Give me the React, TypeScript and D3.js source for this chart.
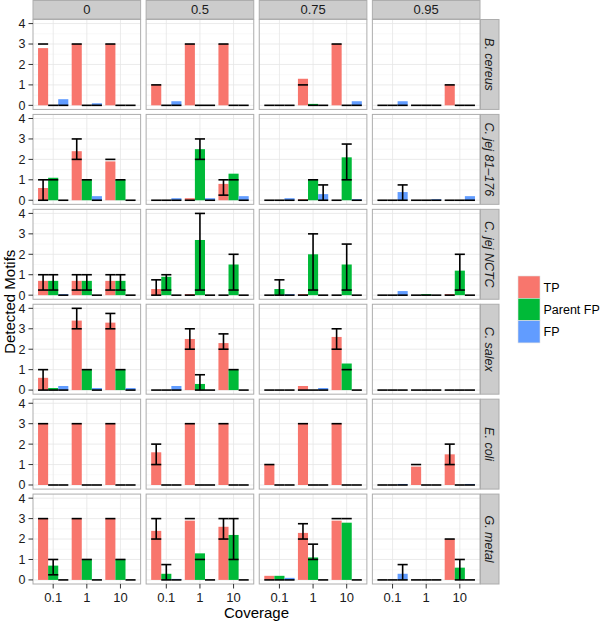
import React from "react";
import * as d3 from "d3";

const thresholds = ["0", "0.5", "0.75", "0.95"];
const species = ["B. cereus", "C. jej 81–176", "C. jej NCTC", "C. salex", "E. coli", "G. metal"];
const coverages = ["0.1", "1", "10"];
const types = ["TP", "Parent FP", "FP"];
const typeColors = ["#F8766D", "#00BA38", "#619CFF"];
const yTicks = [0, 1, 2, 3, 4];

// each entry: [value, errLow, errHigh]; per threshold: coverage 0.1 (TP, Parent FP, FP), 1 (...), 10 (...)
const bCereus = [
  [[2.8, 3, 3], [0, 0, 0], [0.3, 0, 0], [3, 3, 3], [0, 0, 0], [0.1, 0, 0], [3, 3, 3], [0, 0, 0], [0, 0, 0]],
  [[1, 1, 1], [0, 0, 0], [0.2, 0, 0], [3, 3, 3], [0, 0, 0], [0, 0, 0], [3, 3, 3], [0, 0, 0], [0, 0, 0]],
  [[0, 0, 0], [0, 0, 0], [0, 0, 0], [1.3, 1, 1], [0.07, 0, 0], [0, 0, 0], [3, 3, 3], [0, 0, 0], [0.2, 0, 0]],
  [[0, 0, 0], [0, 0, 0], [0.2, 0, 0], [0, 0, 0], [0, 0, 0], [0, 0, 0], [1, 1, 1], [0, 0, 0], [0, 0, 0]],
];
const cJej81 = [
  [[0.6, 0, 1], [1.1, 1, 1], [0, 0, 0], [2.4, 2, 3], [1, 1, 1], [0.2, 0, 0], [1.9, 2, 2], [1, 1, 1], [0, 0, 0]],
  [[0, 0, 0], [0, 0, 0], [0.1, 0, 0], [0.1, 0, 0], [2.5, 2, 3], [0.1, 0, 0], [0.8, 0.25, 1], [1.3, 1, 1], [0.2, 0, 0]],
  [[0, 0, 0], [0, 0, 0], [0.1, 0, 0], [0.05, 0, 0], [1, 1, 1], [0.3, 0, 0.75], [0, 0, 0], [2.1, 1, 2.75], [0.05, 0, 0]],
  [[0, 0, 0], [0, 0, 0], [0.4, 0, 0.75], [0, 0, 0], [0, 0, 0], [0.05, 0, 0], [0, 0, 0], [0, 0, 0], [0.2, 0, 0]],
];
const cJejNCTC = [
  [[0.7, 0.25, 1], [0.7, 0.25, 1], [0.05, 0, 0], [0.7, 0.25, 1], [0.7, 0.25, 1], [0, 0, 0], [0.7, 0.25, 1], [0.7, 0.25, 1], [0, 0, 0]],
  [[0.3, 0, 0.75], [0.9, 0.25, 1], [0, 0, 0], [0.05, 0, 0], [2.7, 0.25, 4], [0, 0, 0], [0, 0, 0], [1.5, 0.25, 2], [0, 0, 0]],
  [[0, 0, 0], [0.3, 0, 0.75], [0.05, 0, 0], [0.05, 0, 0], [2, 0.25, 3], [0, 0, 0], [0, 0, 0], [1.5, 0.25, 2.5], [0, 0, 0]],
  [[0, 0, 0], [0, 0, 0], [0.2, 0, 0], [0, 0, 0], [0.05, 0, 0], [0, 0, 0], [0.05, 0, 0], [1.2, 0.25, 2], [0, 0, 0]],
];
const cSalex = [
  [[0.6, 0, 1], [0.1, 0, 0], [0.2, 0, 0], [3.4, 3, 4], [1, 1, 1], [0.1, 0, 0], [3.3, 3, 3.75], [1, 1, 1], [0.1, 0, 0]],
  [[0, 0, 0], [0, 0, 0], [0.2, 0, 0], [2.5, 2, 3], [0.3, 0, 0.75], [0, 0, 0], [2.3, 2, 2.75], [1, 1, 1], [0, 0, 0]],
  [[0, 0, 0], [0, 0, 0], [0, 0, 0], [0.2, 0, 0], [0, 0, 0], [0.1, 0, 0], [2.6, 2, 3], [1.3, 1, 1], [0, 0, 0]],
  [[0, 0, 0], [0, 0, 0], [0, 0, 0], [0, 0, 0], [0, 0, 0], [0, 0, 0], [0, 0, 0], [0, 0, 0], [0, 0, 0]],
];
const eColi = [
  [[3, 3, 3], [0, 0, 0], [0, 0, 0], [3, 3, 3], [0, 0, 0], [0, 0, 0], [3, 3, 3], [0, 0, 0], [0, 0, 0]],
  [[1.6, 1, 2], [0, 0, 0], [0, 0, 0], [3, 3, 3], [0, 0, 0], [0, 0, 0], [3, 3, 3], [0, 0, 0], [0, 0, 0]],
  [[1, 1, 1], [0, 0, 0], [0, 0, 0], [3, 3, 3], [0, 0, 0], [0, 0, 0], [3, 3, 3], [0, 0, 0], [0, 0, 0]],
  [[0, 0, 0], [0, 0, 0], [0.05, 0, 0], [0.9, 1, 1], [0, 0, 0], [0, 0, 0], [1.5, 1, 2], [0, 0, 0], [0.05, 0, 0]],
];
const gMetal = [
  [[3, 3, 3], [0.7, 0.25, 1], [0, 0, 0], [3, 3, 3], [1, 1, 1], [0, 0, 0], [3, 3, 3], [1, 1, 1], [0, 0, 0]],
  [[2.4, 2, 3], [0.3, 0, 0.75], [0.05, 0, 0], [2.9, 3, 3], [1.3, 1, 1], [0, 0, 0], [2.6, 2, 3], [2.2, 1, 3], [0, 0, 0]],
  [[0.2, 0, 0], [0.2, 0, 0], [0.1, 0, 0], [2.3, 2, 2.75], [1.1, 1, 1.75], [0, 0, 0], [2.9, 3, 3], [2.8, 3, 3], [0, 0, 0]],
  [[0, 0, 0], [0, 0, 0], [0.3, 0, 0.75], [0, 0, 0], [0, 0, 0], [0, 0, 0], [2, 2, 2], [0.6, 0, 1], [0, 0, 0]],
];
const speciesData = [bCereus, cJej81, cJejNCTC, cSalex, eColi, gMetal];

const W = 600;
const H = 622;
const plotLeft = 33;
const plotRight = 480;
const plotTop = 19.5;
const plotBottom = 584;
const colGap = 5.5;
const rowGap = 5;
const stripH = 18.5;
const stripW = 18.5;
const panelW = (plotRight - plotLeft - colGap * (thresholds.length - 1)) / thresholds.length;
const panelH = (plotBottom - plotTop - rowGap * (species.length - 1)) / species.length;
const FONT = "'Liberation Sans', Arial, Helvetica, sans-serif";
const borderCol = "#ADADAD";

function Panel({ ci, ri }: { ci: number; ri: number }) {
  const x0 = plotLeft + ci * (panelW + colGap);
  const y0 = plotTop + ri * (panelH + rowGap);
  const x = d3.scalePoint<string>().domain(coverages).range([x0, x0 + panelW]).padding(0.6);
  const y = d3.scaleLinear().domain([-0.2, 4.2]).range([y0 + panelH, y0]);
  const step = x.step();
  const bw = step * 0.3;
  const data = speciesData[ri][ci];
  const minor = [0.5, 1.5, 2.5, 3.5];
  return (
    <g>
      <rect x={x0} y={y0} width={panelW} height={panelH} fill="#fff" />
      {minor.map((m) => (
        <line key={"mi" + m} x1={x0} x2={x0 + panelW} y1={y(m)} y2={y(m)} stroke="#F3F3F3" strokeWidth={0.6} />
      ))}
      {yTicks.map((t) => (
        <line key={"ma" + t} x1={x0} x2={x0 + panelW} y1={y(t)} y2={y(t)} stroke="#E6E6E6" strokeWidth={0.8} />
      ))}
      {coverages.map((c) => (
        <line key={"vx" + c} x1={x(c)!} x2={x(c)!} y1={y0} y2={y0 + panelH} stroke="#E6E6E6" strokeWidth={0.8} />
      ))}
      {data.map((d, i) => {
        const cov = coverages[Math.floor(i / 3)];
        const ti = i % 3;
        const cx = x(cov)! + (ti - 1) * bw;
        const v = d[0];
        return v > 0 ? (
          <rect key={"b" + i} x={cx - bw / 2} y={y(v)} width={bw} height={y(0) - y(v)} fill={typeColors[ti]} />
        ) : null;
      })}
      {data.map((d, i) => {
        const cov = coverages[Math.floor(i / 3)];
        const ti = i % 3;
        const cx = x(cov)! + (ti - 1) * bw;
        const lo = d[1];
        const hi = d[2];
        return (
          <g key={"e" + i} stroke="#000" strokeWidth={1.6}>
            <line x1={cx - bw / 2} x2={cx + bw / 2} y1={y(lo)} y2={y(lo)} />
            {hi !== lo && (
              <>
                <line x1={cx - bw / 2} x2={cx + bw / 2} y1={y(hi)} y2={y(hi)} />
                <line x1={cx} x2={cx} y1={y(lo)} y2={y(hi)} />
              </>
            )}
          </g>
        );
      })}
      <rect x={x0} y={y0} width={panelW} height={panelH} fill="none" stroke={borderCol} strokeWidth={1} />
    </g>
  );
}

export default function App() {
  const ys = species.map((_, ri) =>
    d3.scaleLinear().domain([-0.2, 4.2]).range([plotTop + ri * (panelH + rowGap) + panelH, plotTop + ri * (panelH + rowGap)])
  );
  const lastRowX = thresholds.map((_, ci) => {
    const x0 = plotLeft + ci * (panelW + colGap);
    return d3.scalePoint<string>().domain(coverages).range([x0, x0 + panelW]).padding(0.6);
  });
  const legendX = 518;
  const legendY = 276;
  const keyH = 22.3;
  return (
    <svg width={W} height={H} style={{ position: "absolute", left: 0, top: 0, fontFamily: FONT }}>
      <rect width={W} height={H} fill="#fff" />
      {/* top strips */}
      {thresholds.map((t, ci) => {
        const x0 = plotLeft + ci * (panelW + colGap);
        return (
          <g key={"ts" + t}>
            <rect x={x0} y={0.5} width={panelW} height={stripH} fill="#CCCCCC" stroke={borderCol} strokeWidth={1} />
            <text x={x0 + panelW / 2} y={0.5 + stripH / 2} dy="0.36em" textAnchor="middle" fontSize={13} fill="#1a1a1a">
              {t}
            </text>
          </g>
        );
      })}
      {/* right strips */}
      {species.map((s, ri) => {
        const y0 = plotTop + ri * (panelH + rowGap);
        const cx = plotRight + 0.5 + stripW / 2;
        const cy = y0 + panelH / 2;
        return (
          <g key={"rs" + s}>
            <rect x={plotRight + 0.5} y={y0} width={stripW} height={panelH} fill="#CCCCCC" stroke={borderCol} strokeWidth={1} />
            <text
              transform={`translate(${cx},${cy}) rotate(90)`}
              dy="0.36em"
              textAnchor="middle"
              fontSize={12.5}
              fontStyle="italic"
              fill="#1a1a1a"
            >
              {s}
            </text>
          </g>
        );
      })}
      {species.map((s, ri) => thresholds.map((t, ci) => <Panel key={s + t} ci={ci} ri={ri} />))}
      {/* y axes */}
      {ys.map((y, ri) => (
        <g key={"ya" + ri}>
          {yTicks.map((t) => (
            <g key={t}>
              <line x1={plotLeft - 4.5} x2={plotLeft} y1={y(t)} y2={y(t)} stroke="#333" strokeWidth={1} />
              <text x={plotLeft - 7.5} y={y(t)} dy="0.35em" textAnchor="end" fontSize={12.5} fill="#1a1a1a">
                {t}
              </text>
            </g>
          ))}
        </g>
      ))}
      {/* x axes */}
      {lastRowX.map((x, ci) => (
        <g key={"xa" + ci}>
          {coverages.map((c) => (
            <g key={c}>
              <line x1={x(c)!} x2={x(c)!} y1={plotBottom} y2={plotBottom + 4.5} stroke="#333" strokeWidth={1} />
              <text x={x(c)!} y={602} textAnchor="middle" fontSize={13} fill="#1a1a1a">
                {c}
              </text>
            </g>
          ))}
        </g>
      ))}
      <text x={(plotLeft + plotRight) / 2} y={618} textAnchor="middle" fontSize={15} fill="#000">
        Coverage
      </text>
      <text
        transform={`translate(10,${(plotTop + plotBottom) / 2}) rotate(-90)`}
        dy="0.36em"
        textAnchor="middle"
        fontSize={15}
        fill="#000"
      >
        Detected Motifs
      </text>
      {/* legend */}
      {types.map((t, i) => (
        <g key={"lg" + t}>
          <rect x={legendX} y={legendY + i * keyH} width={22} height={keyH} fill={typeColors[i]} stroke="#e0e0e0" strokeWidth={0.6} />
          <text x={legendX + 25.5} y={legendY + i * keyH + keyH / 2} dy="0.36em" fontSize={12.5} fill="#000">
            {t}
          </text>
        </g>
      ))}
    </svg>
  );
}
